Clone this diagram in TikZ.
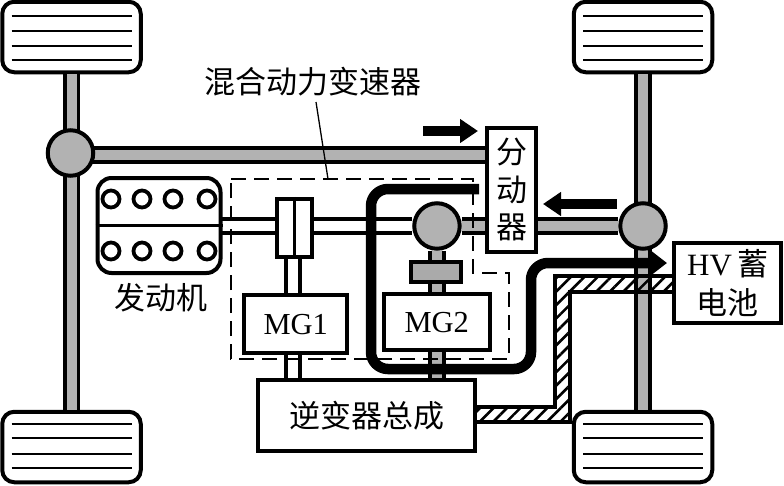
\documentclass[tikz,border=0pt]{standalone}
\usepackage{fontspec}
\setmainfont{Liberation Serif}
\newfontfamily\cjk{Noto Sans CJK SC}
\usetikzlibrary{arrows.meta,patterns.meta,calc}
\tikzset{
  x=1pt,y=-1pt,
  box/.style={draw=black,line width=4pt,fill=white,inner sep=0pt,align=center,font=\fontsize{31}{38}\selectfont\cjk,anchor=north west},
  wheel/.style={draw=black,line width=4pt,fill=white,rounded corners=12pt,minimum width=138.5pt,minimum height=70.5pt,inner sep=0pt},
  joint/.style={circle,draw=black,line width=4pt,fill=axle,minimum size=45.5pt,inner sep=0pt},
  shaft/.style={draw=black,line width=3.8pt,double=axle,double distance=10pt},
  whiteshaft/.style={draw=black,line width=3.8pt,double=white,double distance=10pt},
  bore/.style={circle,draw=black,line width=3.8pt,fill=white,minimum size=17pt,inner sep=0pt},
  flow/.style={line width=10.5pt,draw=black,rounded corners=17pt,-{Triangle[length=17pt,width=25pt]}},
  torque/.style={line width=10pt,draw=black,-{Triangle[length=18pt,width=23pt]}},
  harness/.style={draw=black,line width=3.8pt,pattern={Lines[angle=45,distance=9.5pt,line width=2.6pt]}},
  label/.style={font=\fontsize{31}{34}\selectfont\cjk,inner sep=0pt},
}
\definecolor{axle}{gray}{0.70}
\begin{document}
\begin{tikzpicture}
\useasboundingbox (0,0) rectangle (784,485);
\fill[white] (0,0) rectangle (784,485);

% wheels with tread lines
\node[wheel] (wheelTL) at (71.5,37) {};
\node[wheel] (wheelTR) at (643,37) {};
\node[wheel] (wheelBL) at (71.5,447) {};
\node[wheel] (wheelBR) at (643,447) {};
\foreach \w in {wheelTL,wheelTR}{
  \foreach \dy in {-21,-6,9,23}
    \draw[line width=1.8pt] ($(\w.center)+(-60,\dy)$) -- ($(\w.center)+(60,\dy)$);
}
\foreach \w in {wheelBL,wheelBR}{
  \foreach \dy in {-23,-9,7,21}
    \draw[line width=1.8pt] ($(\w.center)+(-60,\dy)$) -- ($(\w.center)+(60,\dy)$);
}

% axles and propeller shaft
\draw[shaft] (wheelTL.south) -- (wheelBL.north);
\draw[shaft] (wheelTR.south) -- (wheelBR.north);
\coordinate (shaftL) at (71,155);
\coordinate (shaftT) at (490,155);
\draw[shaft] (shaftL) -- (shaftT);
\node[joint] (jointL) at (70.5,153) {};

% main shaft through the transaxle
\coordinate (engOut) at (220,226);
\node[joint] (gear) at (437,226) {};
\node[joint] (jointR) at (643,226) {};
\draw[whiteshaft] (engOut) -- (gear.west);
\coordinate (tcIn) at (490,226);
\coordinate (tcOut) at (535,226);
\draw[shaft] (gear.east) -- (tcIn);
\draw[shaft] (tcOut) -- (jointR.west);

% engine
\node[draw=black,line width=4pt,fill=white,rounded corners=14pt,minimum width=123pt,minimum height=95pt,inner sep=0pt] (engine) at (159,225.5) {};
\draw[line width=3.6pt] (engine.west) -- (engine.east);
\foreach \cx [count=\i] in {111,142,173,207}{
  \node[bore] (boreA\i) at (\cx,199) {};
  \node[bore] (boreB\i) at (\cx,251) {};
}

% high-voltage harness
\path[harness] (470,407) -- (555,407) -- (555,276) -- (680,276) -- (680,292) -- (570,292) -- (570,422) -- (470,422) -- cycle;

% power units
\node[box,minimum width=103.4pt,minimum height=58.4pt,font=\fontsize{30.5}{34}\selectfont] (mg1) at (242,293) {MG1};
\node[box,minimum width=105.6pt,minimum height=56.4pt,font=\fontsize{30.5}{34}\selectfont] (mg2) at (382,292) {MG2};
\node[box,minimum width=217.4pt,minimum height=71.4pt] (inv) at (256,378) {逆变器总成};
\node[box,minimum width=107.4pt,minimum height=80.4pt,font=\fontsize{31}{39}\selectfont] (batt) at (672,241) {HV\,{\cjk 蓄}\\{\cjk 电池}};
\node[box,minimum width=49pt,minimum height=124pt,font=\fontsize{31}{37.5}\selectfont\cjk] (tc) at (485,125.5) {分\\动\\器};

% power split device and its link to MG1
\node[draw=black,line width=4pt,fill=white,minimum width=35.4pt,minimum height=58.4pt,inner sep=0pt] (split) at (294.5,228) {};
\draw[line width=2.4pt] (split.north) -- (split.south);
\draw[whiteshaft] (split.south-|293,0) -- (mg1.north-|293,0);
\draw[whiteshaft] (mg1.south-|293,0) -- (inv.north-|293,0);

% reduction gear on the MG2 stem
\node[draw=black,line width=4pt,fill=axle!95!black,minimum width=50.4pt,minimum height=20.4pt,inner sep=0pt] (reduct) at (436,272) {};
\draw[shaft] (gear.south) -- (reduct.north-|gear.south);
\draw[shaft] (reduct.south-|gear.south) -- (mg2.north-|gear.south);
\draw[shaft] (mg2.south-|gear.south) -- (inv.north-|gear.south);

% transaxle outline
\coordinate (caseTop) at (328,179);
\draw[line width=1.6pt,dash pattern=on 15pt off 8pt]
  (231,179) -- (473,179) -- (473,273) -- (509,273) -- (509,359) -- (231,359) -- cycle;

% electric power flow
\coordinate (flowStart) at (479,189);
\coordinate (flowEnd) at (667,263);
\draw[flow] (flowStart) -- (371,189) -- (371,369) -- (531,369) -- (531,263) -- (flowEnd);

% torque arrows
\coordinate (tqA0) at (423,131);
\coordinate (tqA1) at (478,131);
\coordinate (tqB0) at (617,204);
\coordinate (tqB1) at (543,204);
\draw[torque] (tqA0) -- (tqA1);
\draw[torque] (tqB0) -- (tqB1);

% labels
\node[label] (title) at (313,82) {混合动力变速器};
\draw[line width=1.3pt] (316,102) -- (caseTop);
\node[label] (engLabel) at (161,298) {发动机};
\end{tikzpicture}
\end{document}
